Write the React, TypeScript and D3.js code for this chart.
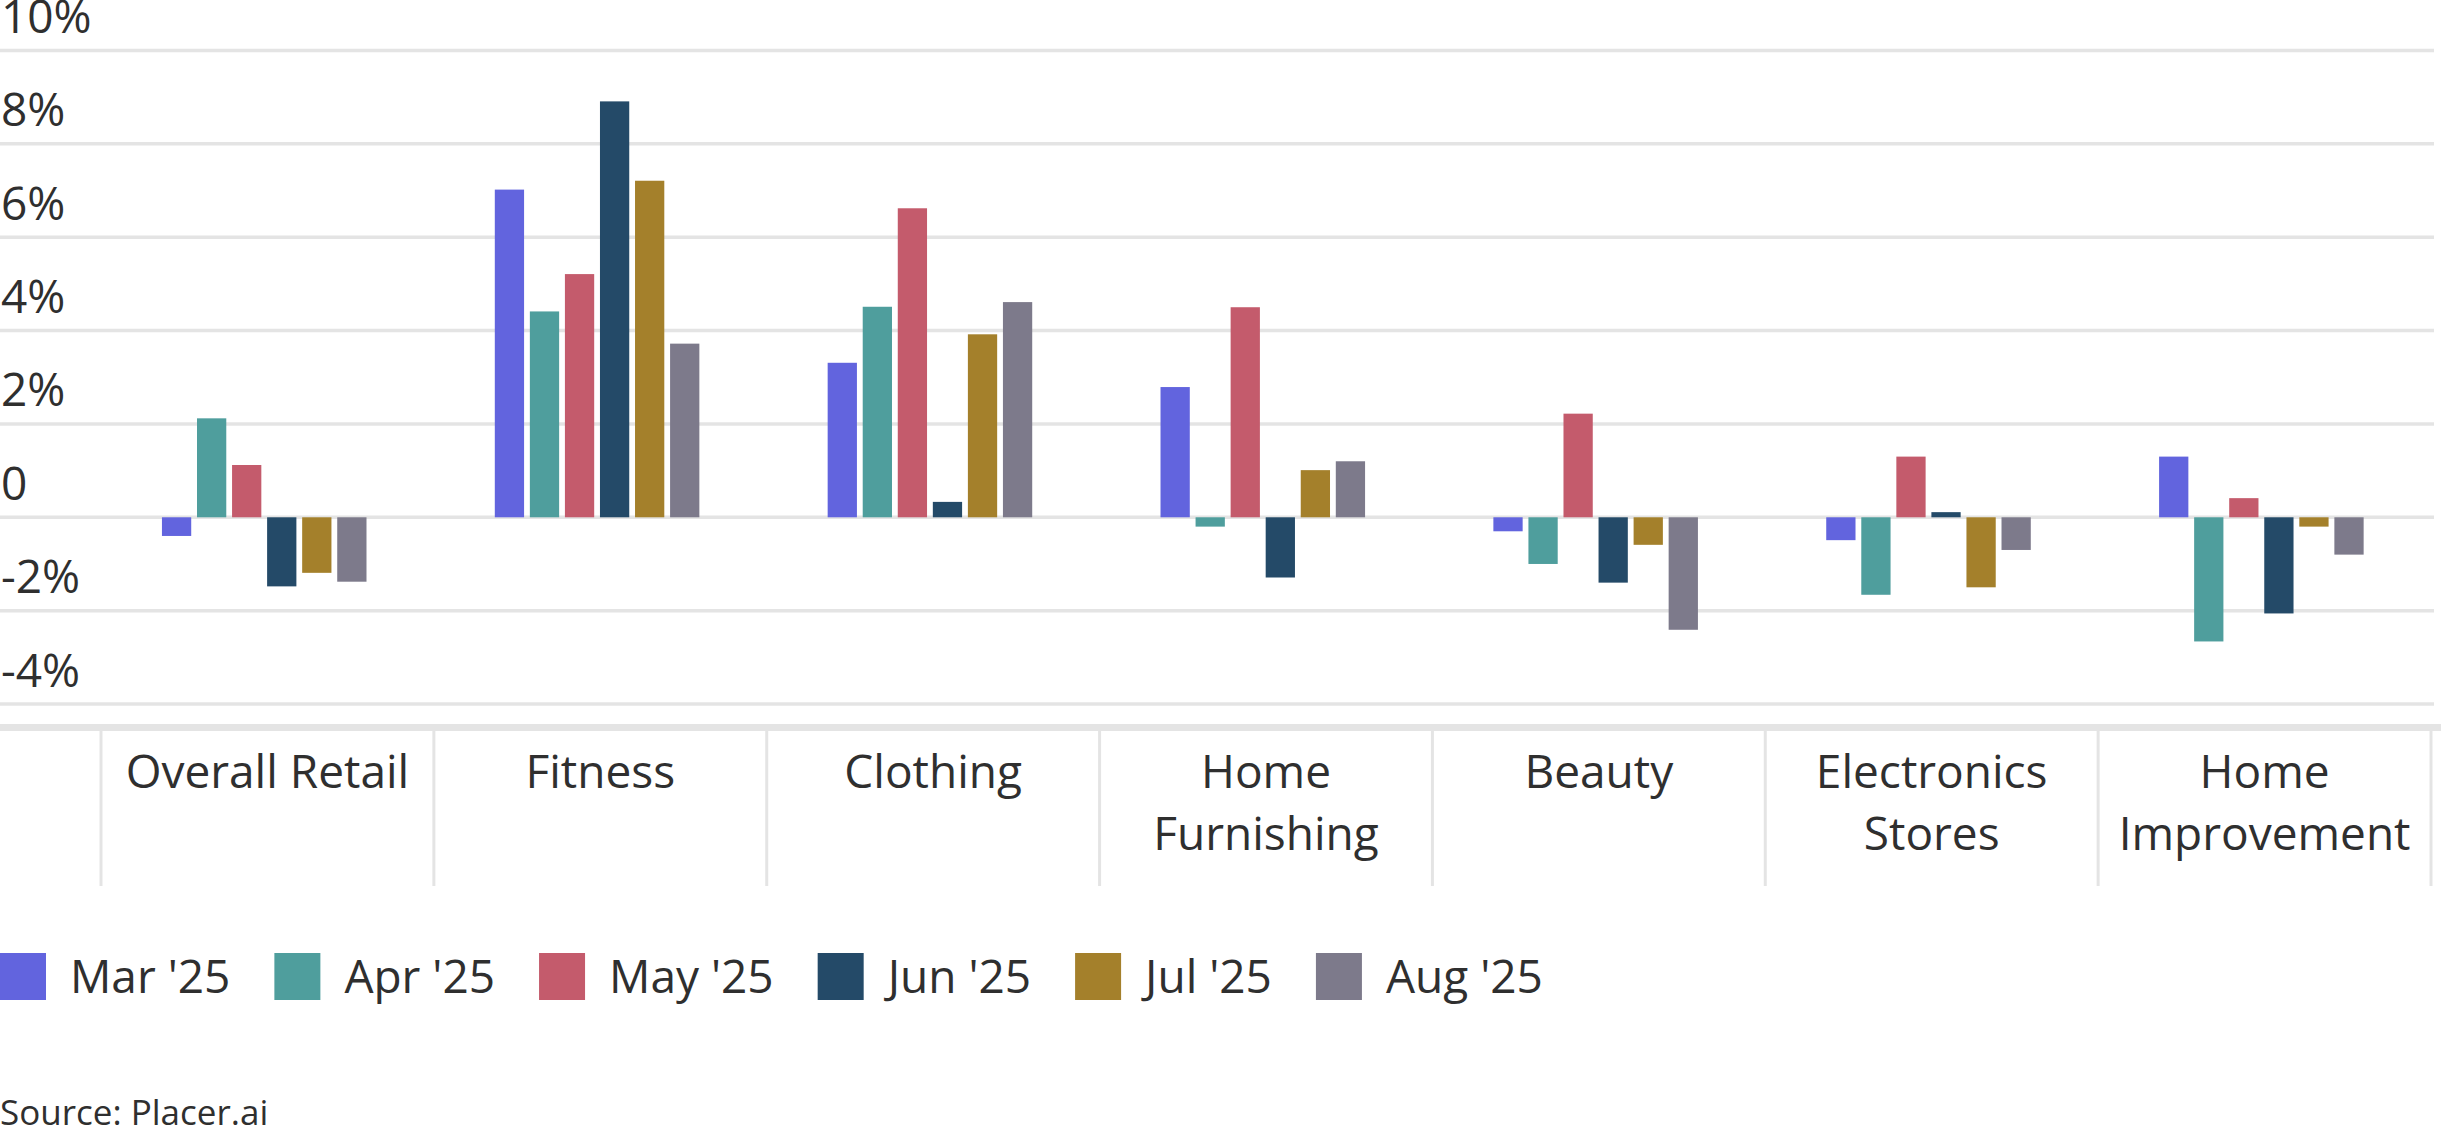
import React, { useEffect, useRef } from "react";
import * as d3 from "d3";

// chart values (percent change)
const categories = [
  "Overall Retail",
  "Fitness",
  "Clothing",
  "Home Furnishing",
  "Beauty",
  "Electronics Stores",
  "Home Improvement",
];

const months = ["Mar '25", "Apr '25", "May '25", "Jun '25", "Jul '25", "Aug '25"];

const mar25 = [-0.4, 7.02, 3.31, 2.79, -0.3, -0.49, 1.3];
const apr25 = [2.12, 4.41, 4.51, -0.2, -1.0, -1.66, -2.66];
const may25 = [1.12, 5.21, 6.62, 4.5, 2.22, 1.3, 0.41];
const jun25 = [-1.48, 8.91, 0.33, -1.29, -1.4, 0.11, -2.06];
const jul25 = [-1.19, 7.21, 3.92, 1.01, -0.59, -1.5, -0.2];
const aug25 = [-1.38, 3.72, 4.61, 1.2, -2.41, -0.7, -0.8];

const seriesValues = [mar25, apr25, may25, jun25, jul25, aug25];

const colors = ["#6264DE", "#4F9E9D", "#C45B6C", "#244A68", "#A4802B", "#7D7A8B"];

const yTicks = [-4, -2, 0, 2, 4, 6, 8, 10];

const sourceText = "Source: Placer.ai";

const W = 2441;
const H = 1127;
const FONT = "'Open Sans', 'Noto Sans', sans-serif";
const TEXT = "#2f2f2f";
const GRID = "#e4e4e4";
const FS = 46;

const App: React.FC = () => {
  const ref = useRef<SVGSVGElement | null>(null);

  useEffect(() => {
    const svg = d3.select(ref.current);
    svg.selectAll("*").remove();

    const x0 = d3.scaleBand<string>().domain(categories).range([101, 2431]).padding(0);
    const x1 = d3
      .scaleBand<string>()
      .domain(months)
      .range([0, x0.bandwidth()])
      .paddingInner(0.165)
      .paddingOuter(1.83)
      .align(0.475);
    const y = d3.scaleLinear().domain([-4, 10]).range([704, 50.5]);

    // gridlines
    svg
      .append("g")
      .selectAll("line")
      .data(yTicks)
      .enter()
      .append("line")
      .attr("x1", 0)
      .attr("x2", 2434)
      .attr("y1", (d) => y(d))
      .attr("y2", (d) => y(d))
      .attr("stroke", GRID)
      .attr("stroke-width", 3.5);

    // tick labels
    svg
      .append("g")
      .selectAll("text")
      .data(yTicks)
      .enter()
      .append("text")
      .attr("x", 1)
      .attr("y", (d) => y(d) - 17.5)
      .attr("font-family", FONT)
      .attr("font-size", FS)
      .attr("fill", TEXT)
      .text((d) => (d === 0 ? "0" : `${d}%`));

    // bars
    const rows = categories.flatMap((c, ci) =>
      months.map((m, mi) => ({ c, m, mi, v: seriesValues[mi][ci] }))
    );
    svg
      .append("g")
      .selectAll("rect")
      .data(rows)
      .enter()
      .append("rect")
      .attr("x", (d) => (x0(d.c) ?? 0) + (x1(d.m) ?? 0))
      .attr("y", (d) => Math.min(y(d.v), y(0)))
      .attr("width", x1.bandwidth())
      .attr("height", (d) => Math.abs(y(d.v) - y(0)))
      .attr("fill", (d) => colors[d.mi]);

    // category table
    svg
      .append("rect")
      .attr("x", 0)
      .attr("y", 724)
      .attr("width", W)
      .attr("height", 7)
      .attr("fill", GRID);

    const seps = [...categories.map((c) => x0(c) ?? 0), x0.range()[1]];
    svg
      .append("g")
      .selectAll("line")
      .data(seps)
      .enter()
      .append("line")
      .attr("x1", (d) => d)
      .attr("x2", (d) => d)
      .attr("y1", 731)
      .attr("y2", 886)
      .attr("stroke", GRID)
      .attr("stroke-width", 3);

    const labels = svg.append("g");
    categories.forEach((c) => {
      const cx = (x0(c) ?? 0) + x0.bandwidth() / 2;
      const t = labels
        .append("text")
        .attr("x", cx)
        .attr("y", 788)
        .attr("text-anchor", "middle")
        .attr("font-family", FONT)
        .attr("font-size", FS)
        .attr("fill", TEXT)
        .text(c);
      const len = (t.node() as SVGTextElement).getComputedTextLength();
      if (len > x0.bandwidth() - 20) {
        // wrap over two lines
        const words = c.split(" ");
        t.text(null);
        words.forEach((w, i) => {
          t.append("tspan")
            .attr("x", cx)
            .attr("y", 788 + i * 62)
            .text(w);
        });
      }
    });

    // legend
    const legend = svg.append("g");
    let lx = 0;
    months.forEach((m, i) => {
      legend
        .append("rect")
        .attr("x", lx)
        .attr("y", 953)
        .attr("width", 46)
        .attr("height", 47)
        .attr("fill", colors[i]);
      const t = legend
        .append("text")
        .attr("x", lx + 70)
        .attr("y", 993)
        .attr("font-family", FONT)
        .attr("font-size", FS)
        .attr("fill", TEXT)
        .text(m);
      lx += 70 + (t.node() as SVGTextElement).getComputedTextLength() + 44;
    });

    svg
      .append("text")
      .attr("x", 0)
      .attr("y", 1125)
      .attr("font-family", FONT)
      .attr("font-size", 35)
      .attr("fill", TEXT)
      .text(sourceText);
  }, []);

  return (
    <svg
      ref={ref}
      width={W}
      height={H}
      style={{ position: "absolute", left: 0, top: 0, background: "#fff" }}
    />
  );
};

export default App;
